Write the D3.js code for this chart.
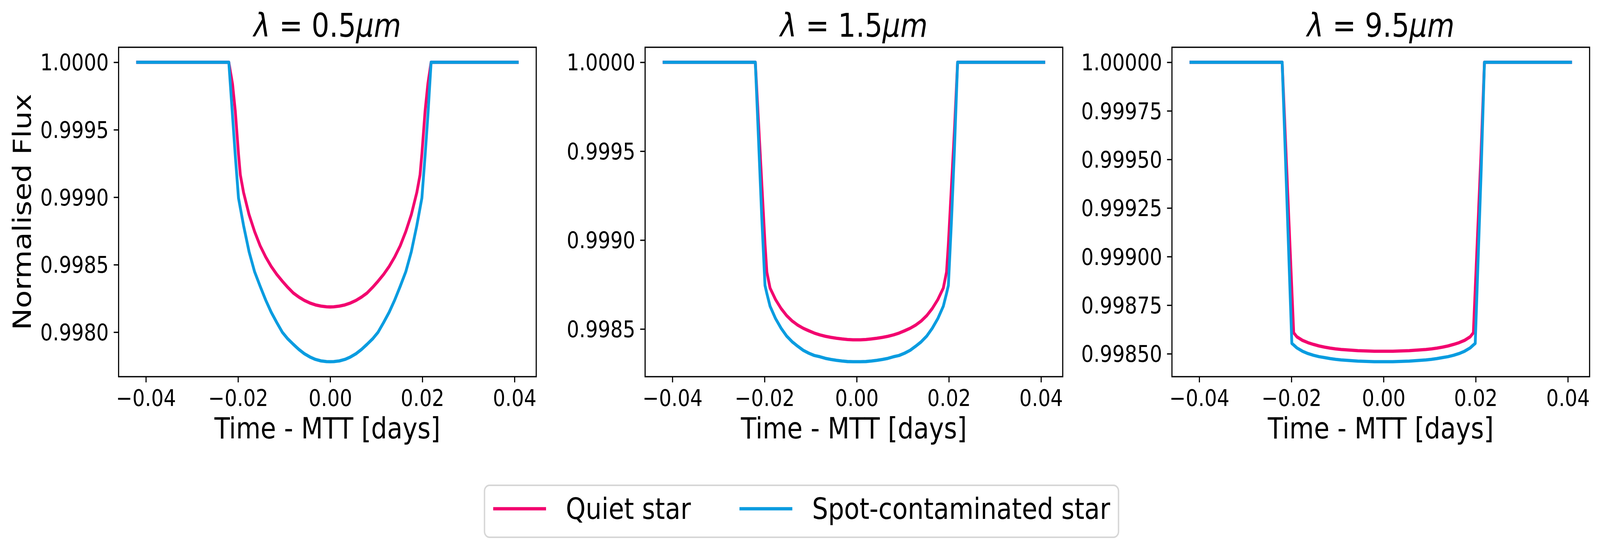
<!DOCTYPE html>
<html><head><meta charset="utf-8">
<script src="https://cdn.jsdelivr.net/npm/d3@7"></script>
<style>
html,body{margin:0;padding:0;background:#fff;overflow:hidden}
svg{display:block;width:100vw;height:100vh}
text{font-family:"DejaVu Sans",sans-serif;fill:#000}
</style>
</head><body>
<svg id="chart" viewBox="0 0 4762 1405" preserveAspectRatio="none"></svg>
<script>
// ---------- data ----------
const times = [-0.0418, -0.0220, -0.0212, -0.0206, -0.0199, -0.0195, -0.0188, -0.0176, -0.0164, -0.0152, -0.0140, -0.0128, -0.0116, -0.0104, -0.0092, -0.0080, -0.0068, -0.0056, -0.0044, -0.0032, -0.0020, -0.0008,
  0,
  0.0008, 0.0020, 0.0032, 0.0044, 0.0056, 0.0068, 0.0080, 0.0092, 0.0104, 0.0116, 0.0128, 0.0140, 0.0152, 0.0164, 0.0176, 0.0188, 0.0195, 0.0199, 0.0206, 0.0212, 0.0219, 0.0406];

const quiet05 = [1.000000, 1.000000, 0.999840, 0.999640, 0.999320, 0.999165, 0.999035, 0.998870, 0.998745, 0.998640, 0.998557, 0.998487, 0.998428, 0.998378, 0.998332, 0.998290, 0.998260, 0.998235, 0.998216, 0.998202, 0.998193, 0.998188,
  0.998187,
  0.998188, 0.998193, 0.998202, 0.998216, 0.998235, 0.998260, 0.998290, 0.998332, 0.998378, 0.998428, 0.998487, 0.998557, 0.998640, 0.998745, 0.998870, 0.999035, 0.999165, 0.999320, 0.999640, 0.999840, 1.000000, 1.000000];
const spot05 = [1.000000, 1.000000, 0.999605, 0.999310, 0.998994, 0.998920, 0.998790, 0.998595, 0.998447, 0.998340, 0.998238, 0.998148, 0.998072, 0.998000, 0.997950, 0.997910, 0.997872, 0.997840, 0.997816, 0.997798, 0.997787, 0.997782,
  0.997781,
  0.997782, 0.997787, 0.997798, 0.997816, 0.997840, 0.997872, 0.997910, 0.997950, 0.998000, 0.998072, 0.998148, 0.998238, 0.998340, 0.998447, 0.998595, 0.998790, 0.998920, 0.998994, 0.999310, 0.999605, 1.000000, 1.000000];

const quiet15 = [1.000000, 1.000000, 0.999610, 0.999320, 0.998980, 0.998820, 0.998730, 0.998665, 0.998615, 0.998575, 0.998545, 0.998522, 0.998504, 0.998490, 0.998477, 0.998467, 0.998459, 0.998453, 0.998448, 0.998444, 0.998441, 0.998439,
  0.998439,
  0.998439, 0.998441, 0.998444, 0.998448, 0.998453, 0.998459, 0.998467, 0.998477, 0.998490, 0.998504, 0.998522, 0.998545, 0.998575, 0.998615, 0.998665, 0.998730, 0.998820, 0.998980, 0.999320, 0.999610, 1.000000, 1.000000];
const spot15 = [1.000000, 1.000000, 0.999500, 0.999126, 0.998745, 0.998700, 0.998628, 0.998558, 0.998504, 0.998460, 0.998428, 0.998403, 0.998380, 0.998364, 0.998351, 0.998344, 0.998335, 0.998329, 0.998324, 0.998320, 0.998317, 0.998316,
  0.998316,
  0.998316, 0.998317, 0.998320, 0.998324, 0.998329, 0.998335, 0.998344, 0.998351, 0.998364, 0.998380, 0.998403, 0.998428, 0.998460, 0.998504, 0.998558, 0.998628, 0.998700, 0.998745, 0.999126, 0.999500, 1.000000, 1.000000];

const quiet95 = [1.000000, 1.000000, 0.999555, 0.999220, 0.998831, 0.998608, 0.998587, 0.998569, 0.998557, 0.998548, 0.998540, 0.998534, 0.998529, 0.998525, 0.998522, 0.998520, 0.998518, 0.998516, 0.998515, 0.998514, 0.998513, 0.998513,
  0.998513,
  0.998513, 0.998513, 0.998514, 0.998515, 0.998516, 0.998518, 0.998520, 0.998522, 0.998525, 0.998529, 0.998534, 0.998540, 0.998548, 0.998557, 0.998569, 0.998587, 0.998608, 0.998831, 0.999220, 0.999555, 1.000000, 1.000000];
const spot95 = [1.000000, 1.000000, 0.999449, 0.999035, 0.998553, 0.998545, 0.998530, 0.998513, 0.998501, 0.998492, 0.998485, 0.998480, 0.998475, 0.998471, 0.998468, 0.998466, 0.998464, 0.998462, 0.998461, 0.998460, 0.998459, 0.998459,
  0.998459,
  0.998459, 0.998459, 0.998460, 0.998461, 0.998462, 0.998464, 0.998466, 0.998468, 0.998471, 0.998475, 0.998480, 0.998485, 0.998492, 0.998501, 0.998513, 0.998530, 0.998545, 0.998553, 0.999035, 0.999449, 1.000000, 1.000000];

const wavelengths = ["0.5", "1.5", "9.5"];
const seriesNames = ["Quiet star", "Spot-contaminated star"];

const xTicks = [-0.04, -0.02, 0.00, 0.02, 0.04];
const xTickLabels = ["\u22120.04", "\u22120.02", "0.00", "0.02", "0.04"];

const yTicks05 = [0.9980, 0.9985, 0.9990, 0.9995, 1.0000];
const yTickLabels05 = ["0.9980", "0.9985", "0.9990", "0.9995", "1.0000"];
const yTicks15 = [0.9985, 0.9990, 0.9995, 1.0000];
const yTickLabels15 = ["0.9985", "0.9990", "0.9995", "1.0000"];
const yTicks95 = [0.99850, 0.99875, 0.99900, 0.99925, 0.99950, 0.99975, 1.00000];
const yTickLabels95 = ["0.99850", "0.99875", "0.99900", "0.99925", "0.99950", "0.99975", "1.00000"];

const xLabel = "Time - MTT [days]";
const yLabel = "Normalised Flux";

// ---------- styling / layout ----------
const colors = ["#f2056f", "#0a9ce0"];
const PT = 300 / 72;
const tickFont = 14 * PT, labelFont = 18 * PT, titleFont = 20 * PT, legendFont = 18 * PT;
const tickLen = 3.5 * PT, tickPad = 3.5 * PT, spineW = 0.8 * PT, lineW = 2 * PT;
const panelLefts = [353, 1920, 3488];
const PW = 1243, PTOP = 121, PH = 843;

const panels = [
  {wl: wavelengths[0], series: [quiet05, spot05], yt: yTicks05, ytl: yTickLabels05},
  {wl: wavelengths[1], series: [quiet15, spot15], yt: yTicks15, ytl: yTickLabels15},
  {wl: wavelengths[2], series: [quiet95, spot95], yt: yTicks95, ytl: yTickLabels95}
];

const svg = d3.select("#chart");

function padded(lo, hi) { const r = hi - lo; return [lo - 0.05 * r, hi + 0.05 * r]; }

panels.forEach((p, pi) => {
  const g = svg.append("g").attr("transform", `translate(${panelLefts[pi]},${PTOP})`);
  const x = d3.scaleLinear().domain(padded(d3.min(times), d3.max(times))).range([0, PW]);
  const allY = p.series.flat();
  const y = d3.scaleLinear().domain(padded(d3.min(allY), d3.max(allY))).range([PH, 0]);

  const cid = "clip" + pi;
  g.append("clipPath").attr("id", cid).append("rect").attr("width", PW).attr("height", PH);

  const line = d3.line().x((d, i) => x(times[i])).y(d => y(d));
  const lg = g.append("g").attr("clip-path", `url(#${cid})`);
  p.series.forEach((s, si) => {
    lg.append("path").datum(s).attr("d", line)
      .attr("fill", "none").attr("stroke", colors[si]).attr("stroke-width", lineW)
      .attr("stroke-linejoin", "round").attr("stroke-linecap", "square");
  });

  const xa = g.append("g").attr("transform", `translate(0,${PH})`)
    .call(d3.axisBottom(x).tickValues(xTicks).tickFormat((d, i) => xTickLabels[i])
      .tickSize(tickLen).tickSizeOuter(0).tickPadding(tickPad));
  const ya = g.append("g")
    .call(d3.axisLeft(y).tickValues(p.yt).tickFormat((d, i) => p.ytl[i])
      .tickSize(tickLen).tickSizeOuter(0).tickPadding(tickPad));
  [xa, ya].forEach(a => {
    a.select(".domain").remove();
    a.selectAll("line").attr("stroke", "#000").attr("stroke-width", spineW);
    a.selectAll("text").attr("font-size", tickFont).attr("font-family", "DejaVu Sans").attr("fill", "#000");
  });
  xa.selectAll("text").attr("dy", "0.785em");
  ya.selectAll("text").attr("dy", "0.35em");

  g.append("rect").attr("width", PW).attr("height", PH)
    .attr("fill", "none").attr("stroke", "#000").attr("stroke-width", spineW);

  const t = g.append("text").attr("x", PW / 2).attr("y", 94 - PTOP)
    .attr("text-anchor", "middle").attr("font-size", titleFont);
  t.append("tspan").attr("font-style", "italic").text("\u03bb");
  t.append("tspan").text(" = " + p.wl);
  t.append("tspan").attr("font-style", "italic").text("\u03bcm");

  g.append("text").attr("x", PW / 2).attr("y", 1122.5 - PTOP)
    .attr("text-anchor", "middle").attr("font-size", labelFont).text(xLabel);

  if (pi === 0) {
    g.append("text").attr("transform", `translate(${92 - panelLefts[0]},${PH / 2}) rotate(-90)`)
      .attr("text-anchor", "middle").attr("font-size", labelFont).text(yLabel);
  }
});

// ---------- legend ----------
const leg = svg.append("g");
leg.append("rect").attr("x", 1442).attr("y", 1242).attr("width", 3329 - 1442).attr("height", 1375 - 1242)
  .attr("rx", 15).attr("ry", 15).attr("fill", "#fff").attr("fill-opacity", 0.8)
  .attr("stroke", "#cccccc").attr("stroke-opacity", 0.8).attr("stroke-width", 1 * PT);
const legX = [1472, 2205];
const items = leg.selectAll("g.item").data(seriesNames).enter().append("g").attr("class", "item");
items.append("line")
  .attr("x1", (d, i) => legX[i]).attr("x2", (d, i) => legX[i] + 149)
  .attr("y1", 1302).attr("y2", 1302)
  .attr("stroke", (d, i) => colors[i]).attr("stroke-width", lineW).attr("stroke-linecap", "square");
items.append("text")
  .attr("x", (d, i) => legX[i] + 212).attr("y", 1328)
  .attr("font-size", legendFont).text(d => d);
</script>
</body></html>
